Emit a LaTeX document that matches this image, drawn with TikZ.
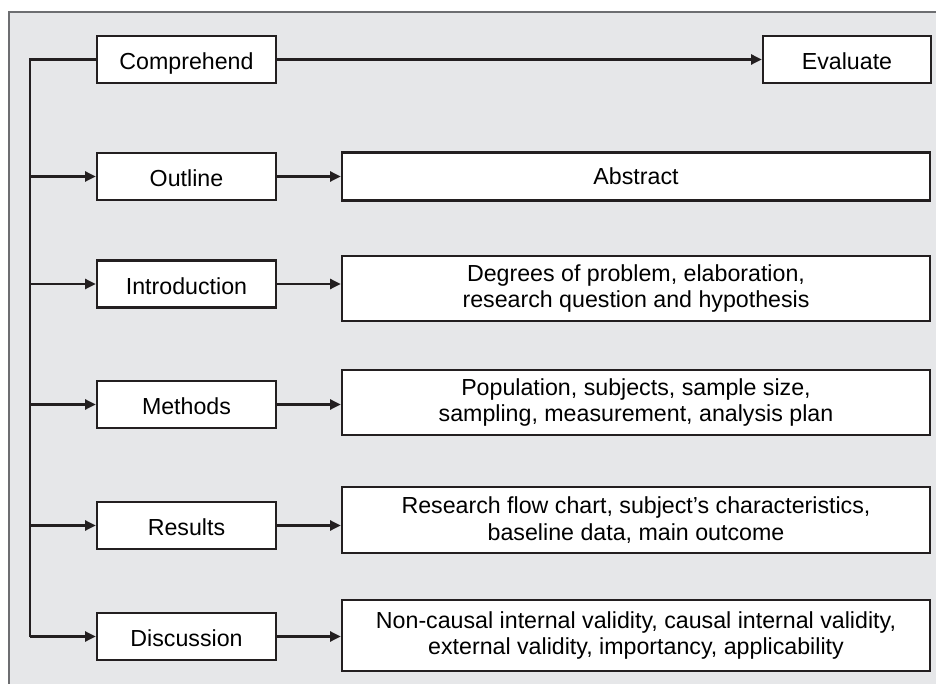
\documentclass[tikz,border=0pt]{standalone}
\usepackage{fontspec}
\setmainfont{Liberation Sans}
\usetikzlibrary{arrows.meta}
\definecolor{panelgray}{HTML}{E6E7E9}
\definecolor{framegray}{HTML}{6D6E71}
\definecolor{inkblack}{HTML}{231F20}

\begin{document}
\begin{tikzpicture}[x=0.75pt,y=-0.75pt,
  box/.style={draw=inkblack,line width=1.8pt,fill=white,minimum height=35.25pt,
    inner sep=0pt,font=\fontsize{17.4}{20}\selectfont},
  stage/.style={box,minimum width=134.25pt,text height=16.3pt,text depth=0.7pt},
  detail/.style={box,minimum width=441pt,align=center},
  arr/.style={draw=inkblack,line width=1.6pt,-{Triangle[length=8pt,width=7.5pt]}}]
  \useasboundingbox (0,0) rectangle (936,684);
  %panel
  \fill[panelgray] (9,12) rectangle (936,684);
  \draw[framegray,line width=1.2pt] (9,684) -- (9,12) -- (936,12);
  %left column
  \node[stage] (comprehend) at (186.5,59.5) {Comprehend};
  \node[stage] (outline) at (186.5,176.5) {Outline};
  \node[stage] (intro) at (186.5,284) {Introduction};
  \node[stage] (methods) at (186.5,404.5) {Methods};
  \node[stage] (results) at (186.5,525.5) {Results};
  \node[stage] (discussion) at (186.5,636.5) {Discussion};
  \node[stage,minimum width=126pt] (evaluate) at (847,59.5) {Evaluate};
  %right column
  \node[detail,minimum height=36pt] (abstract) at (636,176.5) {Abstract};
  \node[detail,minimum height=48.75pt] (introdetail) at (636,288.5)
  {Degrees of problem, elaboration,\\research question and hypothesis};
  \node[detail,minimum height=48.75pt] (methodsdetail) at (636,402.5)
  {Population, subjects, sample size,\\sampling, measurement, analysis plan};
  \node[detail,minimum height=49.5pt] (resultsdetail) at (636,520)
  {Research flow chart, subject's characteristics,\\baseline data, main outcome};
  \node[detail,minimum height=53.25pt] (discussiondetail) at (636,635.5)
  {Non-causal internal validity, causal internal validity,\\external validity, importancy, applicability};
  %trunk
  \coordinate (trunktop) at (30,59.5);
  \coordinate (trunkbot) at (30,636.5);
  \draw[inkblack,line width=1.6pt] (comprehend.west) -- (trunktop) -- (trunkbot);
  \foreach \n in {outline,intro,methods,results,discussion}
    \draw[arr] (trunktop |- \n.west) -- (\n.west);
  \draw[arr] (comprehend.east) -- (evaluate.west);
  \foreach \a/\b in {outline/abstract,intro/introdetail,methods/methodsdetail,
    results/resultsdetail,discussion/discussiondetail}
    \draw[arr] (\a.east) -- (\a.east -| \b.west);
\end{tikzpicture}
\end{document}
